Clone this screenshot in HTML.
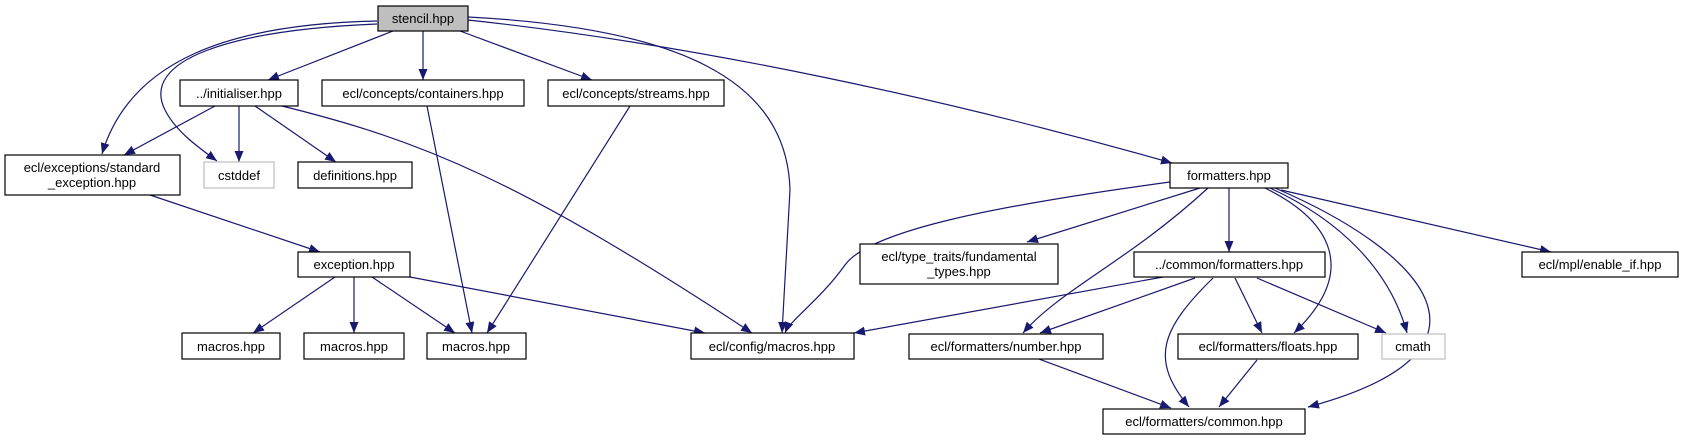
<!DOCTYPE html>
<html><head><meta charset="utf-8"><style>
html,body{margin:0;padding:0;background:#fff;}
svg{display:block;}
text{font-family:"Liberation Sans",sans-serif;font-size:13px;fill:#000;}
</style></head><body>
<svg width="1681" height="440" viewBox="0 0 1681 440" xmlns="http://www.w3.org/2000/svg">
<defs>
<marker id="a" markerUnits="userSpaceOnUse" markerWidth="12" markerHeight="10" refX="11" refY="5" orient="auto">
<polygon points="0,0.5 11,5 0,9.5" fill="#191970"/>
</marker>
</defs>
<g fill="none" stroke="#191970" stroke-width="1.2" marker-end="url(#a)">
<!-- stencil -->
<path d="M393,31 L268,80"/>
<path d="M423,31 L423,80"/>
<path d="M460,31 L592,80"/>
<path d="M468,20 C700,45 950,100 1172,163"/>
<path d="M468,17 C680,28 787,80 790,190 L782,333"/>
<path d="M377,21 C230,24 130,60 102,154"/>
<path d="M377,24 C230,30 140,60 165,110 C175,130 195,145 217,161"/>
<!-- initialiser -->
<path d="M215,106 L124,155"/>
<path d="M239,106 L239,162"/>
<path d="M255,106 L336,162"/>
<path d="M282,106 C420,140 520,180 752,333"/>
<!-- containers / streams -->
<path d="M427,106 L472,333"/>
<path d="M630,106 L487,333"/>
<!-- standard_exception -->
<path d="M150,195 L320,252"/>
<!-- exception -->
<path d="M335,277 L253,333"/>
<path d="M354,277 L354,333"/>
<path d="M372,277 L455,333"/>
<path d="M410,277 L705,333"/>
<!-- formatters -->
<path d="M1170,182 C1000,205 870,230 845,265 C820,300 790,320 785,333"/>
<path d="M1200,188 L1027,242"/>
<path d="M1208,188 C1130,260 1060,290 1023,333"/>
<path d="M1229,188 L1229,252"/>
<path d="M1265,188 C1330,220 1360,270 1294,333"/>
<path d="M1270,188 C1340,220 1390,270 1407,333"/>
<path d="M1275,188 C1420,250 1520,350 1308,407"/>
<path d="M1281,190 L1551,252"/>
<!-- common/formatters -->
<path d="M1163,277 L854,333"/>
<path d="M1195,278 L1040,333"/>
<path d="M1213,278 C1160,330 1150,360 1189,407"/>
<path d="M1235,278 L1262,333"/>
<path d="M1257,278 L1386,333"/>
<path d="M1039,359 L1171,408"/>
<path d="M1257,360 L1219,407"/>
</g>
<g stroke-width="1.2">
<rect x="378" y="6" width="90" height="25" fill="#bfbfbf" stroke="#000"/>
<rect x="180" y="80" width="118" height="26" fill="#fff" stroke="#000"/>
<rect x="322" y="80" width="202" height="26" fill="#fff" stroke="#000"/>
<rect x="548" y="80" width="176" height="26" fill="#fff" stroke="#000"/>
<rect x="5" y="155" width="175" height="40" fill="#fff" stroke="#000"/>
<rect x="204" y="162" width="70" height="26" fill="#fff" stroke="#bfbfbf"/>
<rect x="298" y="162" width="114" height="26" fill="#fff" stroke="#000"/>
<rect x="298" y="252" width="112" height="25" fill="#fff" stroke="#000"/>
<rect x="182" y="333" width="98" height="26" fill="#fff" stroke="#000"/>
<rect x="304" y="333" width="100" height="26" fill="#fff" stroke="#000"/>
<rect x="427" y="333" width="99" height="26" fill="#fff" stroke="#000"/>
<rect x="691" y="333" width="163" height="26" fill="#fff" stroke="#000"/>
<rect x="1170" y="163" width="118" height="25" fill="#fff" stroke="#000"/>
<rect x="860" y="244" width="198" height="40" fill="#fff" stroke="#000"/>
<rect x="1134" y="252" width="191" height="25" fill="#fff" stroke="#000"/>
<rect x="1522" y="252" width="156" height="25" fill="#fff" stroke="#000"/>
<rect x="909" y="334" width="194" height="25" fill="#fff" stroke="#000"/>
<rect x="1178" y="334" width="180" height="25" fill="#fff" stroke="#000"/>
<rect x="1382" y="334" width="63" height="25" fill="#fff" stroke="#bfbfbf"/>
<rect x="1103" y="409" width="202" height="25" fill="#fff" stroke="#000"/>
</g>
<g text-anchor="middle">
<text x="423" y="23">stencil.hpp</text>
<text x="239" y="98">../initialiser.hpp</text>
<text x="423" y="98">ecl/concepts/containers.hpp</text>
<text x="636" y="98">ecl/concepts/streams.hpp</text>
<text x="92" y="172">ecl/exceptions/standard</text>
<text x="92" y="187">_exception.hpp</text>
<text x="239" y="180">cstddef</text>
<text x="355" y="180">definitions.hpp</text>
<text x="354" y="269">exception.hpp</text>
<text x="231" y="351">macros.hpp</text>
<text x="354" y="351">macros.hpp</text>
<text x="476" y="351">macros.hpp</text>
<text x="772" y="351">ecl/config/macros.hpp</text>
<text x="1229" y="180">formatters.hpp</text>
<text x="959" y="261">ecl/type_traits/fundamental</text>
<text x="959" y="276">_types.hpp</text>
<text x="1229" y="269">../common/formatters.hpp</text>
<text x="1600" y="269">ecl/mpl/enable_if.hpp</text>
<text x="1006" y="351">ecl/formatters/number.hpp</text>
<text x="1268" y="351">ecl/formatters/floats.hpp</text>
<text x="1413" y="351">cmath</text>
<text x="1204" y="426">ecl/formatters/common.hpp</text>
</g>
</svg>
</body></html>
